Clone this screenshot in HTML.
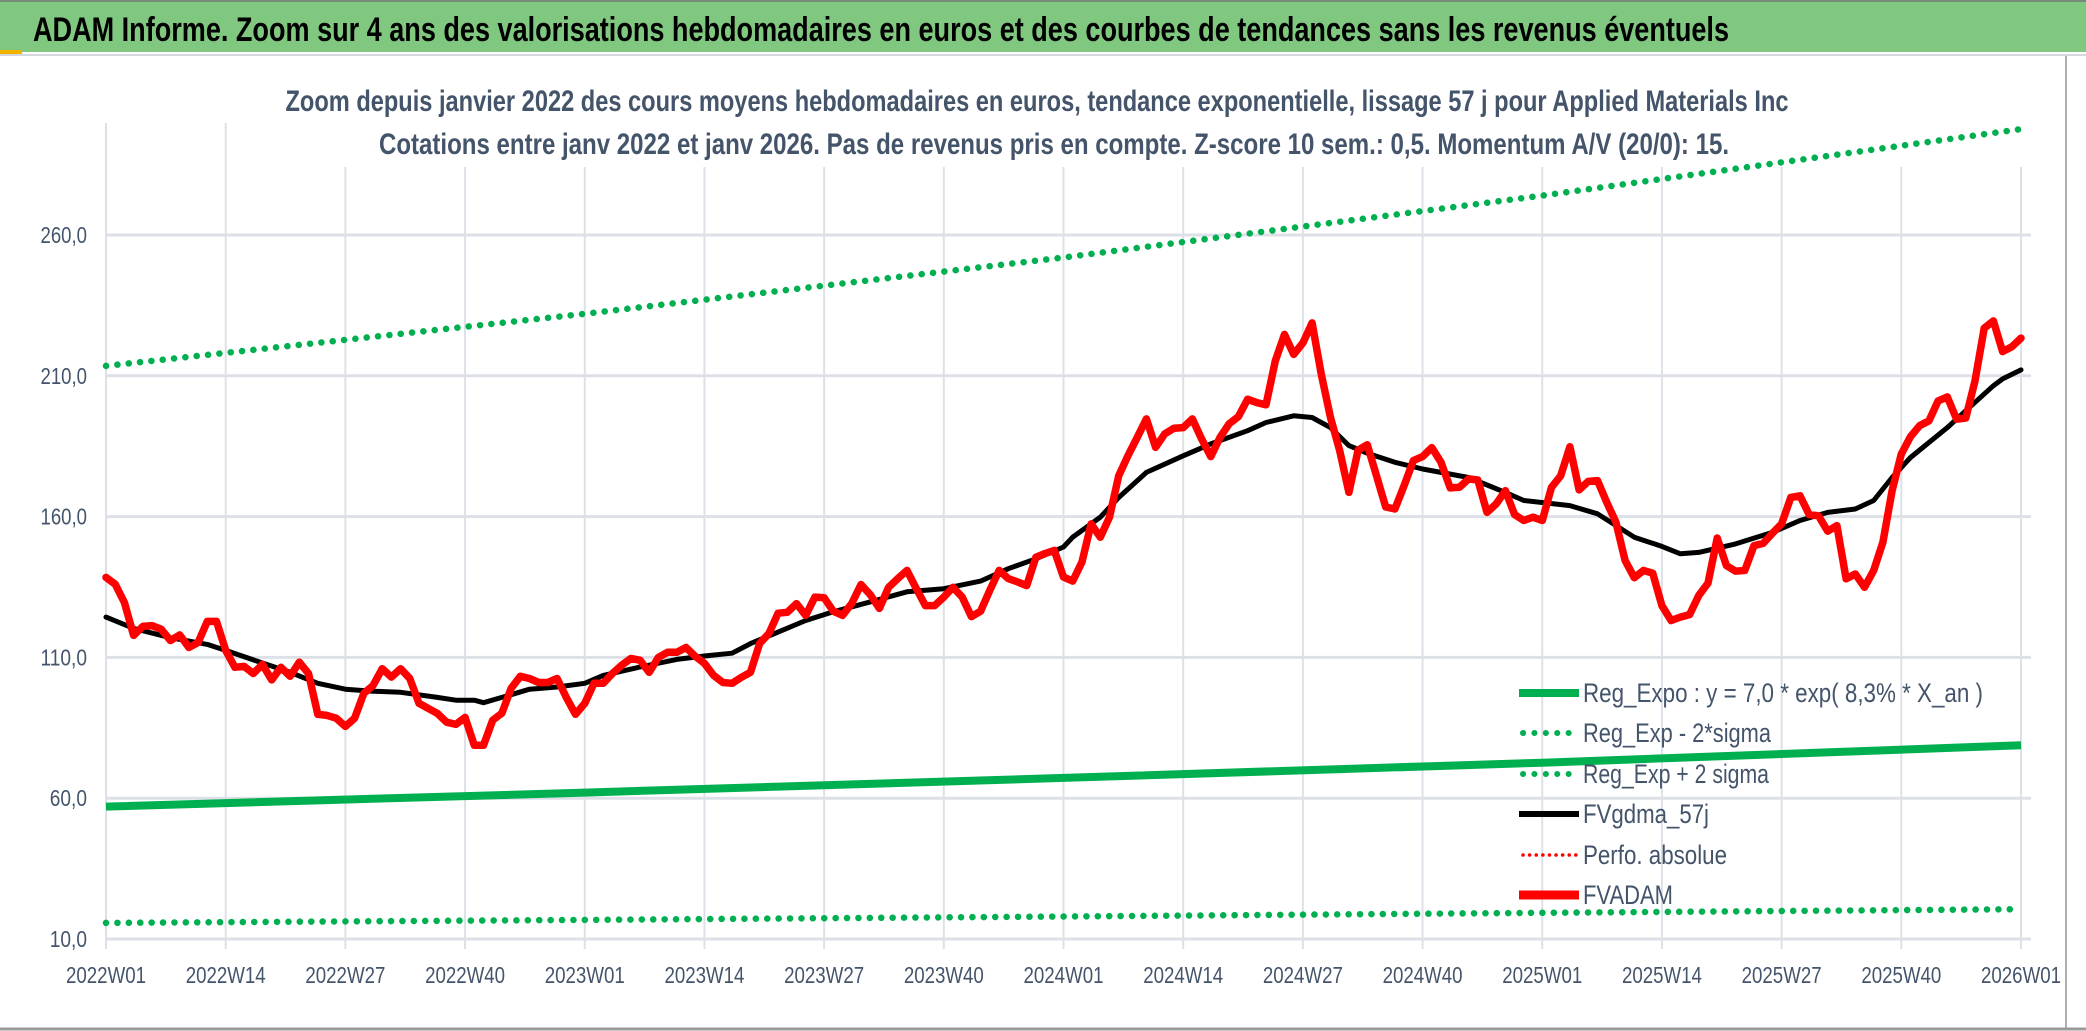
<!DOCTYPE html>
<html><head><meta charset="utf-8"><style>
html,body{margin:0;padding:0;background:#fff;}
svg{display:block;font-family:"Liberation Sans",sans-serif;}
</style></head><body>
<svg id="chart" width="2086" height="1031" viewBox="0 0 2086 1031" xmlns="http://www.w3.org/2000/svg">
<rect x="0" y="0" width="2086" height="1031" fill="#ffffff"/>
<rect x="0" y="0" width="2086" height="52" fill="#80c880"/>
<line x1="0" y1="1" x2="2086" y2="1" stroke="#7a8a7a" stroke-width="2"/>
<rect x="0" y="50" width="22" height="4" fill="#f0b400"/>
<line x1="0" y1="55" x2="2086" y2="55" stroke="#d4d8de" stroke-width="2"/>
<text x="33" y="41" font-size="34" font-weight="bold" fill="#000" textLength="1696" lengthAdjust="spacingAndGlyphs">ADAM Informe. Zoom sur 4 ans des valorisations hebdomadaires en euros et des courbes de tendances sans les revenus éventuels</text>
<line x1="2066" y1="56" x2="2066" y2="1028" stroke="#b0b0b0" stroke-width="2"/>
<line x1="0" y1="1029" x2="2086" y2="1029" stroke="#999" stroke-width="3"/>
<g id="grid"></g>
<rect x="280" y="72" width="1520" height="95" fill="#fff"/>
<text x="1037" y="111" text-anchor="middle" font-size="30" font-weight="bold" fill="#44546a" textLength="1503" lengthAdjust="spacingAndGlyphs">Zoom depuis janvier 2022 des cours moyens hebdomadaires en euros, tendance exponentielle, lissage 57 j pour Applied Materials Inc</text>
<text x="1054" y="154" text-anchor="middle" font-size="30" font-weight="bold" fill="#44546a" textLength="1350" lengthAdjust="spacingAndGlyphs">Cotations entre janv 2022 et janv 2026. Pas de revenus pris en compte. Z-score 10 sem.: 0,5. Momentum A/V (20/0): 15.</text>
<g id="axes"></g>
<g id="series"></g>
<g id="legend"></g>
</svg>
<script>
const xTickWeeks = [0,13,26,39,52,65,78,91,104,117,130,143,156,169,182,195,208];
const xTickLabels = ["2022W01","2022W14","2022W27","2022W40","2023W01","2023W14","2023W27","2023W40","2024W01","2024W14","2024W27","2024W40","2025W01","2025W14","2025W27","2025W40","2026W01"];
const yTicks = [10,60,110,160,210,260];
const yTickLabels = ["10,0","60,0","110,0","160,0","210,0","260,0"];
const regWeeks = [0,52,104,156,208];
const regExpo = [57,62,67.2,72.6,78.8];
const regLow = [15.7,16.8,18,19.3,20.6];
const regHigh = [213.5,232,252,274,297.6];
const fvadam = [138.4,136,129.5,117.8,121,121.3,120,116,118,113.5,
115.3,122.8,122.8,112.5,106.5,106.8,104.3,107.5,102,106.5,
103.3,108.3,104.3,89.8,89.4,88.4,85.5,88.4,97.2,100,
106,103,106,102.5,93.7,91.9,90.1,87,86.2,88.7,
78.8,78.8,87.7,90.2,99,103.3,102.5,101.1,101.1,102.5,
95.8,89.8,93.7,100.8,100.8,104.3,107.2,109.6,109,104.7,
110,111.8,111.8,113.5,110.4,107.9,103.6,101.1,100.8,102.9,
104.7,115,
118.5,125.7,126,129.1,124.9,131.4,131.2,126.4,124.9,129.1,
135.9,132.3,127.4,134.9,138,140.9,134.5,128.4,128.4,131.4,
134.9,131.4,124.5,126.4,133.8,140.9,138,136.8,135.5,145.6,
146.9,148,138.5,137.1,143.8,157.4,152.7,159.8,174.5,181.6,
188.1,194.7,184.6,189.4,191.4,191.6,194.7,187.6,181.3,188.1,
193,195.5,201.7,200.5,199.7,215.3,224.7,217.6,221.7,228.8,
210.5,195.2,183.4,168.6,183.6,185.5,174.5,163.4,162.7,
171,179.9,181.3,184.5,179.3,170.2,170.4,173.4,173,161.5,
164.5,169.2,160.7,158.6,159.8,158.6,170.4,174.5,184.8,169.5,
172.5,172.8,165.1,158,144.4,138.3,140.9,139.9,128.4,123.1,
124.3,125.2,132,136.4,152.4,142.6,140.6,140.9,149.7,150.5,
154.1,157.4,166.8,167.4,160.7,160.3,154.8,156.8,137.9,139.6,
134.9,140.9,150.9,169.2,182.2,188.4,192.3,194,201.1,202.5,
194.6,195,208.2,226.9,229.5,218.6,220.3,223.4];
const maWeeks = [0,3,7,11,13,17,20,23,26,29,32,36,38,40,41,43,46,49,52,54,58,62,65,68,70,73,76,79,83,87,91,95,98,101,104,105,108,110,113,117,120,124,126,129,131,133,135,137,140,143,148,152,154,159,162,166,169,171,173,177,181,184,187,190,192,194,196,200,202,205,206,208];
const maVals = [124.3,120.3,117,114.6,112.5,108,104.7,100.8,98.7,98,97.6,95.8,94.8,94.8,93.9,95.8,98.7,99.5,100.8,103.6,106.6,109.3,110.5,111.5,114.9,119,123.1,126.2,129.7,133.3,134.4,137.1,141.5,145,149.2,152.7,159.8,166.8,175.7,181.6,185.8,190.5,193.4,195.8,195.2,191.6,185.2,182.5,179.3,176.9,173.9,168.6,165.7,163.9,161,152.7,149.4,146.8,147.3,150.3,154.4,158.6,161.5,162.7,165.7,173.9,181,191.6,197.6,206.5,208.9,212.1];

const NS = "http://www.w3.org/2000/svg";
const X0 = 106, X1 = 2021, Y0 = 939, Y1 = 235;
function xScale(w){ return X0 + w*(X1-X0)/208; }
function yScale(v){ return Y0 - (v-10)*(Y0-Y1)/250; }
function mk(tag, attrs, parent){ const e=document.createElementNS(NS,tag); for(const k in attrs) e.setAttribute(k,attrs[k]); parent.appendChild(e); return e; }

const grid = document.getElementById('grid');
const axes = document.getElementById('axes');
yTicks.forEach((v,i)=>{
  const l = mk('line',{x1:X0,x2:X1+10,y1:yScale(v),y2:yScale(v),stroke:'#dde1e7','stroke-width':3},grid);
  
  
  const t = mk('text',{x:87,y:yScale(v)+8,'text-anchor':'end','font-size':23,fill:'#44546a',textLength:yTickLabels[i].length*9.3,lengthAdjust:'spacingAndGlyphs'},axes);
  t.textContent = yTickLabels[i];
  
  
});
xTickWeeks.forEach((w,i)=>{
  const l = mk('line',{x1:xScale(w),x2:xScale(w),y1:(i<2?123:167),y2:Y0+10,stroke:'#dde1e7','stroke-width':2},grid);
  
  
  const t = mk('text',{x:xScale(w),y:983,'text-anchor':'middle','font-size':23,fill:'#44546a',textLength:80,lengthAdjust:'spacingAndGlyphs'},axes);
  t.textContent = xTickLabels[i];
  
  
});

const series = document.getElementById('series');
function path(ws, vs){ return ws.map((w,i)=>(i?'L':'M')+xScale(w).toFixed(1)+','+yScale(vs[i]).toFixed(1)).join(' '); }
const dotted = {fill:'none',stroke:'#00b050','stroke-width':6.5,'stroke-linecap':'round','stroke-dasharray':'0.1 11.3'};
let p;
p = mk('path',Object.assign({d:path(regWeeks,regHigh)},dotted),series);


p = mk('path',Object.assign({d:path(regWeeks,regLow)},dotted),series);


p = mk('path',{d:path(regWeeks,regExpo),fill:'none',stroke:'#00b050','stroke-width':8},series);


p = mk('path',{d:path(maWeeks,maVals),fill:'none',stroke:'#000','stroke-width':5,'stroke-linejoin':'round','stroke-linecap':'round'},series);


p = mk('path',{d:path(fvadam.map((v,i)=>i),fvadam),fill:'none',stroke:'#ff0000','stroke-width':7.5,'stroke-linejoin':'round','stroke-linecap':'round'},series);



const legend = document.getElementById('legend');
const legItems = [
 ['Reg_Expo : y = 7,0 * exp( 8,3% *  X_an )','#00b050','solid',8,'legend-reg-expo',400],
 ['Reg_Exp - 2*sigma','#00b050','dot',6,'legend-reg-exp-minus',188],
 ['Reg_Exp + 2 sigma','#00b050','dot',6,'legend-reg-exp-plus',186],
 ['FVgdma_57j','#000','solid',6,'legend-fvgdma',126],
 ['Perfo. absolue','#ff0000','dot',3.5,'legend-perfo-absolue',144],
 ['FVADAM','#ff0000','solid',9,'legend-fvadam',90]
];
const legY = [693,733,774,814,855,895];
legItems.forEach((it,i)=>{
  const g = mk('g',{},legend);
  
  
  const a = {x1:1519,x2:1579,y1:legY[i],y2:legY[i],stroke:it[1],'stroke-width':it[3]};
  if(it[2]==='dot'){ a['stroke-linecap']='round'; a['stroke-dasharray']= it[3]>4?'0.1 11.3':'0.1 6.5'; a.x1=1523; a.x2=1577; }
  mk('line',a,g);
  const t = mk('text',{x:1583,y:legY[i]+9,'font-size':27,fill:'#44546a',textLength:it[5],lengthAdjust:'spacingAndGlyphs'},g);
  t.textContent = it[0];
});
</script>
</body></html>
